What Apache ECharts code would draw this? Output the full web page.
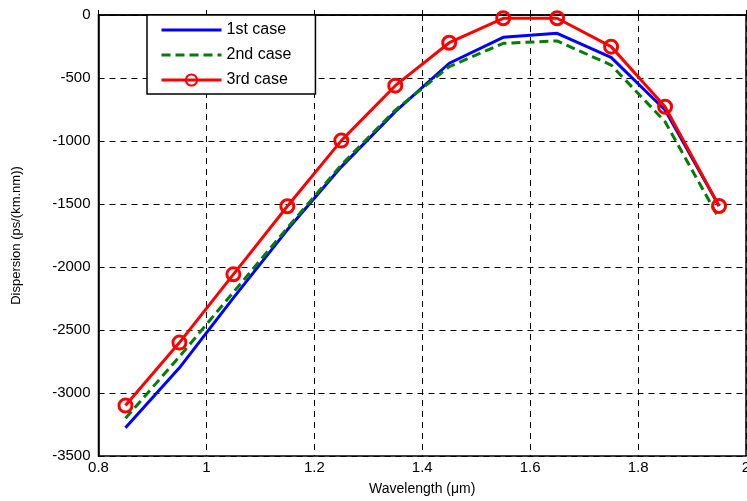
<!DOCTYPE html>
<html>
<head>
<meta charset="utf-8">
<script src="https://cdn.jsdelivr.net/npm/echarts@6/dist/echarts.min.js"></script>
<style>
  html, body { margin: 0; padding: 0; background: #fff; }
  #container { width: 747px; height: 501px; }
</style>
</head>
<body>
<div id="container"></div>
<script>
// wavelength samples (um)
var wavelength = [0.85, 0.95, 1.05, 1.15, 1.25, 1.35, 1.45, 1.55, 1.65, 1.75, 1.85, 1.95];
// dispersion ps/(km.nm)
var case1 = [-3275, -2800, -2245, -1705, -1205, -767, -383, -177, -145, -336, -754, -1516];
var case2 = [-3200, -2712, -2200, -1690, -1190, -755, -410, -225, -206, -397, -847, -1614];
var case3 = [-3100, -2600, -2058, -1518, -997, -561, -220, -26, -26, -251, -728, -1516];
var seriesNames = ["1st case", "2nd case", "3rd case"];
var xTicks = [0.8, 1, 1.2, 1.4, 1.6, 1.8, 2];
var yTicks = [-3500, -3000, -2500, -2000, -1500, -1000, -500, 0];

function pairs(ys) {
    var out = [];
    for (var i = 0; i < wavelength.length; i++) {
        out.push([wavelength[i], ys[i]]);
    }
    return out;
}

var font = "Liberation Sans, Arial, sans-serif";
var gridLine = { show: true, lineStyle: { color: "#000", type: [6, 5], width: 1 } };

var option = {
    animation: false,
    backgroundColor: "#fff",
    grid: {
        left: 98.5, right: 1, top: 15, bottom: 45,
        outerBoundsMode: "none",
        containLabel: false,
        show: true, borderColor: "#000", borderWidth: 1.5, backgroundColor: "transparent"
    },
    legend: {
        left: 147, top: 15,
        orient: "vertical",
        backgroundColor: "#fff",
        borderColor: "#000",
        borderWidth: 1.5,
        borderRadius: 0,
        padding: [7, 24, 6, 13],
        itemWidth: 60,
        itemHeight: 14,
        itemGap: 9,
        textStyle: { fontFamily: font, fontSize: 16, color: "#000" },
        data: [
            { name: seriesNames[0], itemStyle: { opacity: 0 }, lineStyle: { width: 3 } },
            { name: seriesNames[1], itemStyle: { opacity: 0 }, lineStyle: { width: 3 } },
            { name: seriesNames[2], lineStyle: { width: 3 } }
        ]
    },
    xAxis: {
        type: "value",
        min: 0.8, max: 2, interval: 0.2,
        name: "Wavelength (\u03bcm)",
        nameLocation: "middle",
        nameGap: 26,
        nameTextStyle: { fontFamily: font, fontSize: 14, color: "#000" },
        axisLine: { show: true, lineStyle: { color: "#000", width: 1.5 } },
        axisTick: { show: true, inside: true, length: 5, lineStyle: { color: "#000" } },
        axisLabel: {
            fontFamily: font, fontSize: 15, color: "#000", margin: 4,
            formatter: function (v) { return String(Math.round(v * 10) / 10); }
        },
        splitLine: gridLine
    },
    yAxis: {
        type: "value",
        min: -3500, max: 0, interval: 500,
        name: "Dispersion (ps/(km.nm))",
        nameLocation: "middle",
        nameGap: 76,
        nameTextStyle: { fontFamily: font, fontSize: 13, color: "#000" },
        axisLine: { show: true, lineStyle: { color: "#000", width: 1.5 } },
        axisTick: { show: true, inside: true, length: 5, lineStyle: { color: "#000" } },
        axisLabel: {
            fontFamily: font, fontSize: 15, color: "#000", margin: 8,
            formatter: function (v) { return String(v); }
        },
        splitLine: gridLine
    },
    series: [
        {
            name: seriesNames[0], type: "line", data: pairs(case1),
            showSymbol: false, symbol: "none",
            itemStyle: { color: "#0000ff" },
            lineStyle: { color: "#0000ff", width: 3 },
            z: 2
        },
        {
            name: seriesNames[1], type: "line", data: pairs(case2),
            showSymbol: false, symbol: "none",
            itemStyle: { color: "#007f00" },
            lineStyle: { color: "#007f00", width: 3, type: [9, 5] },
            z: 3
        },
        {
            name: seriesNames[2], type: "line", data: pairs(case3),
            symbol: "circle", symbolSize: 13,
            itemStyle: { color: "rgba(255,255,255,0)", borderColor: "#ff0000", borderWidth: 3 },
            lineStyle: { color: "#ff0000", width: 3 },
            z: 4
        }
    ]
};

var myChart = echarts.init(document.getElementById("container"));
myChart.setOption(option);
</script>
</body>
</html>
